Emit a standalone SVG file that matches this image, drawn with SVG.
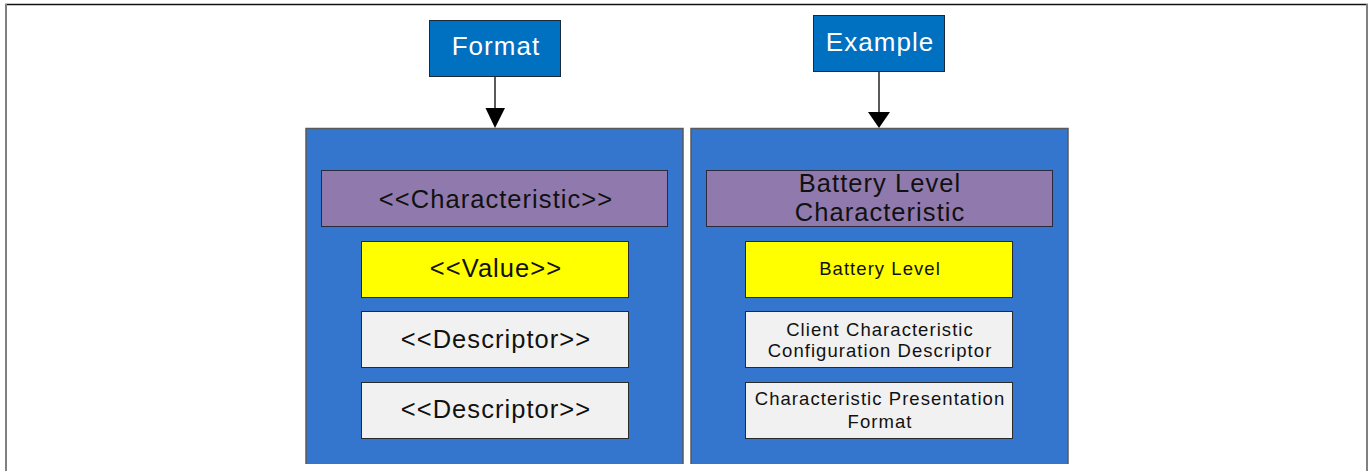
<svg xmlns="http://www.w3.org/2000/svg" width="1371" height="471" viewBox="0 0 1371 471">
<style>
text{font-family:"Liberation Sans",Arial,sans-serif;text-anchor:middle;fill:#111;letter-spacing:1.05px}
.hdr{fill:#0070C0;stroke:#1a2a3a;stroke-width:1}
.hdr-t{fill:#fff;font-size:26px}
.panel{fill:#3476CE}
.pb{stroke:#5a5a5a;stroke-width:1.5;fill:none}
.ch{fill:#907AAD;stroke:#2a2a3a;stroke-width:1}
.val{fill:#FFFF00;stroke:#2a2a2a;stroke-width:1}
.desc{fill:#F1F1F1;stroke:#2a2a2a;stroke-width:1}
.big{font-size:25.5px}
.sm{font-size:18.5px}
.conn{stroke:#000;stroke-width:1.3}
</style>
<rect x="0" y="0" width="1371" height="471" fill="#fff"/>
<line x1="5" y1="4.5" x2="1368" y2="4.5" stroke="#111" stroke-width="1.5"/>
<line x1="6" y1="4" x2="6" y2="471" stroke="#808080" stroke-width="2"/>
<line x1="1367" y1="4" x2="1367" y2="471" stroke="#808080" stroke-width="2"/>

<g id="panel-format">
<rect class="panel" x="306" y="128" width="377" height="336"/>
<path class="pb" d="M306,464 V128.5 H683 V464"/>
</g>
<g id="panel-example">
<rect class="panel" x="691" y="128" width="377" height="336"/>
<path class="pb" d="M691,464 V128.5 H1068 V464"/>
</g>

<g id="format">
<rect class="hdr" x="429.5" y="20.5" width="131" height="56"/>
<text class="hdr-t" x="496" y="55">Format</text>
</g>
<g id="example">
<rect class="hdr" x="813.5" y="15.5" width="131" height="56"/>
<text class="hdr-t" x="880" y="51">Example</text>
</g>

<g id="characteristic">
<rect class="ch" x="321.5" y="170.5" width="346" height="56"/>
<text class="big" x="496" y="208">&lt;&lt;Characteristic&gt;&gt;</text>
</g>
<g id="value">
<rect class="val" x="361.5" y="241.5" width="267" height="56"/>
<text class="big" x="496" y="277">&lt;&lt;Value&gt;&gt;</text>
</g>
<g id="descriptor1">
<rect class="desc" x="361.5" y="311.5" width="267" height="56"/>
<text class="big" x="496" y="348">&lt;&lt;Descriptor&gt;&gt;</text>
</g>
<g id="descriptor2">
<rect class="desc" x="361.5" y="382.5" width="267" height="56"/>
<text class="big" x="496" y="418">&lt;&lt;Descriptor&gt;&gt;</text>
</g>

<g id="battery-level-characteristic">
<rect class="ch" x="706.5" y="170.5" width="346" height="56"/>
<text class="big" x="880" y="192">Battery Level</text>
<text class="big" x="880" y="221">Characteristic</text>
</g>
<g id="battery-level">
<rect class="val" x="745.5" y="241.5" width="267" height="56"/>
<text class="sm" x="880" y="275">Battery Level</text>
</g>
<g id="cccd">
<rect class="desc" x="745.5" y="311.5" width="267" height="56"/>
<text class="sm" x="880" y="335.5">Client Characteristic</text>
<text class="sm" x="880" y="357">Configuration Descriptor</text>
</g>
<g id="cpf">
<rect class="desc" x="745.5" y="382.5" width="267" height="56"/>
<text class="sm" x="880" y="405">Characteristic Presentation</text>
<text class="sm" x="880" y="428">Format</text>
</g>

<g id="connectors">
<line class="conn" x1="495" y1="77" x2="495" y2="110"/>
<path d="M485.5,108 L505,108 L495,128 Z" fill="#000"/>
<line class="conn" x1="879" y1="72" x2="879" y2="113"/>
<path d="M868,112 L890,112 L879,128 Z" fill="#000"/>
</g>
</svg>
